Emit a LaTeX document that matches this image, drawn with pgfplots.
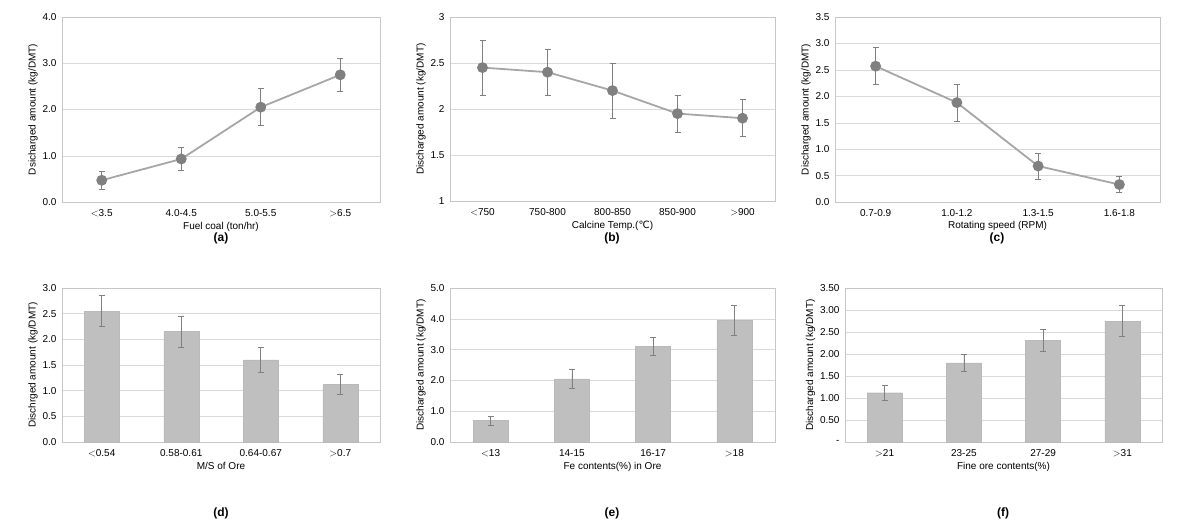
\documentclass[border=0pt]{standalone}
\usepackage{pgfplots}
\pgfplotsset{compat=1.18}
\usepackage{fontspec}
\setmainfont{Liberation Sans}
\newfontfamily\dejavu{DejaVu Sans}
\definecolor{ln}{HTML}{A6A6A6}
\definecolor{mk}{HTML}{808080}
\definecolor{br}{HTML}{BFBFBF}
\definecolor{gr}{HTML}{D9D9D9}
\pgfplotsset{
 pan/.style={anchor=south west, scale only axis,
  /pgf/number format/assume math mode=true,
  font=\fontsize{10}{12}\selectfont,
  axis line style={gr!80!gray}, ymajorgrids, grid style={gr},
  major tick length=0pt, xtick=data, enlarge y limits=false,
  ylabel style={font=\fontsize{10}{12}\selectfont, yshift=-2pt},
  xlabel style={font=\fontsize{10}{12}\selectfont, yshift=2pt},
  xticklabel style={yshift=-4pt}, yticklabel style={xshift=-2pt}},
 lin/.style={color=ln, line width=1.8pt, mark=*, mark size=4.5pt, mark options={fill=mk, draw=mk},
  error bars/.cd, y dir=both, y explicit, error bar style={mk, line width=0.6pt}, error mark options={mk, rotate=90, mark size=3pt, line width=0.6pt}},
 bar/.style={ybar, bar width=35pt, fill=br, draw=br!90!gray, mark=none,
  error bars/.cd, y dir=both, y explicit, error bar style={mk, line width=0.6pt}, error mark options={mk, rotate=90, mark size=3pt, line width=0.6pt}},
}
\newcommand\lab[3]{\node[font=\bfseries\fontsize{12}{14}\selectfont] at (#1pt,#2pt) {#3};}
\begin{document}
\begin{tikzpicture}
\path (0pt,0pt) rectangle (1177pt,525pt);
% (a)
\begin{axis}[pan, at={(62pt,323pt)}, width=318pt, height=185pt, xmin=-0.5, xmax=3.5, ymin=0, ymax=4, ytick={0,1,2,3,4},
 yticklabel style={/pgf/number format/.cd, fixed, fixed zerofill, precision=1},
 xticklabels={$<$3.5,4.0-4.5,5.0-5.5,$>$6.5}, xlabel={Fuel coal (ton/hr)}, ylabel={Dsicharged amount (kg/DMT)}]
\addplot[lin] table[x=x,y=y,y error=e]{
x y e
0 0.47 0.20
1 0.93 0.25
2 2.05 0.40
3 2.75 0.35
};
\end{axis}
\lab{221}{287}{(a)}
% (b)
\begin{axis}[pan, at={(450pt,324pt)}, width=325pt, height=184pt, xmin=-0.5, xmax=4.5, ymin=1, ymax=3, ytick={1,1.5,2,2.5,3},
 xticklabels={$<$750,750-800,800-850,850-900,$>$900}, xlabel={Calcine Temp.({\dejavu ℃})}, ylabel={Discharged amount (kg/DMT)}]
\addplot[lin] table[x=x,y=y,y error=e]{
x y e
0 2.45 0.30
1 2.40 0.25
2 2.20 0.30
3 1.95 0.20
4 1.90 0.20
};
\end{axis}
\lab{612}{287}{(b)}
% (c)
\begin{axis}[pan, at={(835pt,323pt)}, width=325pt, height=185pt, xmin=-0.5, xmax=3.5, ymin=0, ymax=3.5, ytick={0,0.5,...,3.5},
 yticklabel style={/pgf/number format/.cd, fixed, fixed zerofill, precision=1},
 xticklabels={0.7-0.9,1.0-1.2,1.3-1.5,1.6-1.8}, xlabel={Rotating speed (RPM)}, ylabel={Discharged amount (kg/DMT)}]
\addplot[lin] table[x=x,y=y,y error=e]{
x y e
0 2.57 0.35
1 1.88 0.35
2 0.68 0.25
3 0.33 0.15
};
\end{axis}
\lab{997}{287}{(c)}
% (d)
\begin{axis}[pan, at={(62pt,83pt)}, width=318pt, height=154pt, xmin=-0.5, xmax=3.5, ymin=0, ymax=3, ytick={0,0.5,...,3},
 yticklabel style={/pgf/number format/.cd, fixed, fixed zerofill, precision=1},
 xticklabels={$<$0.54,0.58-0.61,0.64-0.67,$>$0.7}, xlabel={M/S of Ore}, ylabel={Dischrged amount (kg/DMT)}]
\addplot[bar] table[x=x,y=y,y error=e]{
x y e
0 2.55 0.30
1 2.15 0.30
2 1.60 0.25
3 1.12 0.20
};
\end{axis}
\lab{221}{12}{(d)}
% (e)
\begin{axis}[pan, at={(450pt,83pt)}, width=325pt, height=154pt, xmin=-0.5, xmax=3.5, ymin=0, ymax=5, ytick={0,1,...,5},
 yticklabel style={/pgf/number format/.cd, fixed, fixed zerofill, precision=1},
 xticklabels={$<$13,14-15,16-17,$>$18}, xlabel={Fe contents(\%) in Ore}, ylabel={Discharged amount (kg/DMT)}]
\addplot[bar] table[x=x,y=y,y error=e]{
x y e
0 0.70 0.15
1 2.05 0.30
2 3.10 0.30
3 3.95 0.50
};
\end{axis}
\lab{612}{12}{(e)}
% (f)
\begin{axis}[pan, at={(845pt,83pt)}, width=317pt, height=154pt, xmin=-0.5, xmax=3.5, ymin=0, ymax=3.5, ytick={0,0.5,...,3.5},
 yticklabels={-,0.50,1.00,1.50,2.00,2.50,3.00,3.50},
 xticklabels={$>$21,23-25,27-29,$>$31}, xlabel={Fine ore contents(\%)}, ylabel={Discharged amount (kg/DMT)}]
\addplot[bar] table[x=x,y=y,y error=e]{
x y e
0 1.12 0.18
1 1.80 0.20
2 2.31 0.25
3 2.75 0.35
};
\end{axis}
\lab{1003}{12}{(f)}
\end{tikzpicture}
\end{document}
